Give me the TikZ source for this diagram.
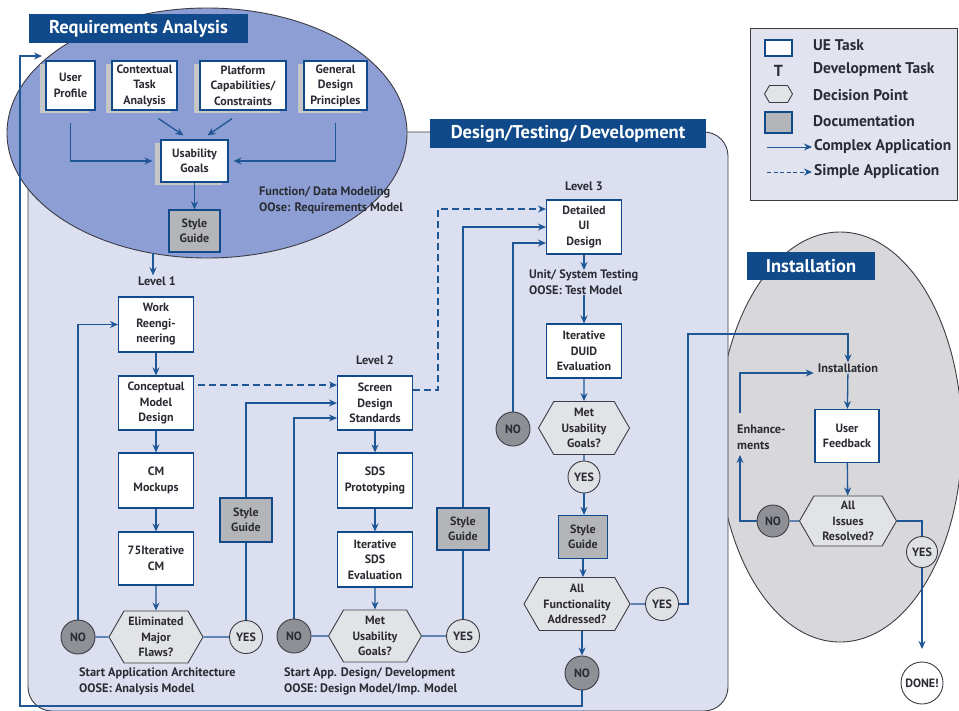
\documentclass[tikz,border=0pt]{standalone}
\usepackage{fontspec}
\setmainfont{PT Sans}
\usetikzlibrary{arrows.meta,shapes.symbols,shadows}

\definecolor{navy}{HTML}{114A8B}
\definecolor{linkblue}{HTML}{1F5696}
\definecolor{reqblue}{HTML}{8C9ED3}
\definecolor{lav}{HTML}{DCDFF0}
\definecolor{docgray}{HTML}{B4B5B8}
\definecolor{hexgray}{HTML}{E2E3E6}
\definecolor{nogray}{HTML}{8E9095}
\definecolor{yesgray}{HTML}{E0E1E4}
\definecolor{instgray}{HTML}{D8D8DA}
\definecolor{edge}{HTML}{3C3C44}
\definecolor{ink}{HTML}{2B2B33}
\definecolor{legendbg}{HTML}{E1E3EF}

\newcommand\boxfont{\fontsize{12}{15.5}\selectfont\bfseries}
\newcommand\notefont{\fontsize{12.3}{15.5}\selectfont\bfseries}
\newcommand\legfont{\fontsize{15.5}{17}\selectfont\bfseries}
\newcommand\headfont{\fontsize{18.5}{20}\selectfont\bfseries}

\begin{document}
\begin{tikzpicture}[x=1pt,y=-1pt,
  task/.style={draw=navy, line width=1.1pt, fill=white, align=center,
    inner sep=1pt, font=\boxfont, text=ink},
  shadowed/.style={drop shadow={shadow xshift=-6pt, shadow yshift=-3pt,
    fill=black!22, opacity=1}},
  doc/.style={draw=navy, line width=1.1pt, fill=docgray, align=center,
    inner sep=1pt, font=\boxfont, text=ink},
  hexd/.style={signal, signal to=east and west, signal pointer angle=120,
    draw=edge, line width=0.9pt, fill=hexgray, inner sep=0pt, align=center,
    font=\boxfont, text=ink},
  nocirc/.style={circle, draw=edge, line width=0.9pt, fill=nogray,
    minimum size=34pt, inner sep=0pt, font=\boxfont, text=ink},
  yescirc/.style={circle, draw=edge, line width=0.9pt, fill=yesgray,
    minimum size=33pt, inner sep=0pt, font=\boxfont, text=ink},
  note/.style={align=left, inner sep=0pt, font=\notefont, text=ink},
  lvl/.style={inner sep=1pt, font=\notefont, text=ink},
  title/.style={fill=navy, text=white, font=\headfont, inner sep=0pt},
  legtext/.style={anchor=west, inner sep=0pt, font=\legfont, text=ink},
  link/.style={draw=linkblue, line width=1.3pt},
  arr/.style={link, -{Stealth[length=8pt,width=7pt]}},
  dashlink/.style={dash pattern=on 7pt off 4pt}
]
\useasboundingbox (0,0) rectangle (959,710);
\fill[white] (0,0) rectangle (959,710);

% ---------- phase backgrounds ----------
\draw[draw=edge, line width=0.9pt, fill=instgray] (840,437) ellipse [x radius=122pt, y radius=205pt];
\draw[draw=edge, line width=0.9pt, fill=lav, rounded corners=24pt] (28,132) rectangle (728,711);
\draw[draw=edge, line width=0.9pt, fill=reqblue] (207,133) ellipse [x radius=200pt, y radius=125pt];

\node[title, minimum width=219pt, minimum height=29pt] (ratitle) at (138.5,28.5) {Requirements Analysis};
\node[title, minimum width=276pt, minimum height=29pt] (dtdtitle) at (568,133.5) {Design/Testing/\,Development};
\node[title, minimum width=128pt, minimum height=28pt] (insttitle) at (811,266) {Installation};

% ---------- legend ----------
\node[draw=edge, line width=1pt, fill=legendbg, minimum width=207pt, minimum height=172pt, inner sep=0pt] (legend) at (853.5,114) {};
\node[draw=navy, line width=1.1pt, fill=white, minimum width=27pt, minimum height=16pt, inner sep=0pt] (lgtask) at (778.5,48) {};
\node[inner sep=0pt, font=\fontsize{16}{16}\selectfont\bfseries, text=ink] (lgT) at (778.5,71) {T};
\node[hexd, minimum width=28pt, minimum height=17pt] (lghex) at (778.5,94) {};
\node[doc, minimum width=27pt, minimum height=21pt] (lgdoc) at (778.5,122.5) {};
\coordinate (lgaS) at (767,147);
\coordinate (lgaE) at (812,147);
\coordinate (lgbS) at (767,172);
\coordinate (lgbE) at (812,172);
\draw[arr, line width=1pt] (lgaS) -- (lgaE);
\draw[arr, line width=1pt, dash pattern=on 4pt off 2.5pt] (lgbS) -- (lgbE);
\node[legtext] (lgt1) at (813,45) {UE Task};
\node[legtext] (lgt2) at (813,70) {Development Task};
\node[legtext] (lgt3) at (813,95) {Decision Point};
\node[legtext] (lgt4) at (813,121) {Documentation};
\node[legtext] (lgt5) at (814,147) {Complex Application};
\node[legtext] (lgt6) at (814,172) {Simple Application};

% ---------- requirements analysis ----------
\node[task, shadowed, minimum width=49pt, minimum height=49pt] (up) at (70.5,85.5) {User\\Profile};
\node[task, shadowed, minimum width=65pt, minimum height=49pt] (cta) at (144.5,85.5) {Contextual\\Task\\Analysis};
\node[task, shadowed, minimum width=86pt, minimum height=49pt] (pcc) at (243,85.5) {Platform\\Capabilities/\\Constraints};
\node[task, shadowed, minimum width=63pt, minimum height=49pt] (gdp) at (335.5,85.5) {General\\Design\\Principles};
\node[task, shadowed, minimum width=67pt, minimum height=42pt] (ug) at (194.5,161) {Usability\\Goals};
\node[doc, minimum width=51pt, minimum height=42pt] (sg0) at (194.5,231) {Style\\Guide};
\node[note, anchor=north west] (fdm) at (259,187) {Function/ Data Modeling\\OOse: Requirements Model};

\draw[arr, shorten <=12pt, shorten >=8pt] (up.south) |- (ug.west);
\draw[arr, shorten <=12pt, shorten >=5pt] (gdp.south) |- (ug.east);
\draw[arr] ([xshift=14pt,yshift=-8pt]cta.south) -- ([xshift=-11pt,yshift=4pt]ug.north);
\draw[arr] ([xshift=-11pt,yshift=-8pt]pcc.south) -- ([xshift=13pt,yshift=4pt]ug.north);
\draw[arr] (ug.south) -- (sg0.north);

% ---------- level 1 ----------
\coordinate (reqbot) at (153,253);
\node[lvl] (lv1) at (157,281) {Level 1};
\draw[arr] (reqbot) -- (reqbot |- lv1.north);

\node[task, minimum width=75pt, minimum height=55pt] (wr) at (156,324.5) {Work\\Reengi-\\neering};
\node[task, minimum width=75pt, minimum height=54pt] (cmd) at (156,403) {Conceptual\\Model\\Design};
\node[task, minimum width=75pt, minimum height=55pt] (cmm) at (156,480.5) {CM\\Mockups};
\node[task, minimum width=75pt, minimum height=53pt] (itcm) at (156,558.5) {75Iterative\\CM};
\node[hexd, minimum width=94pt, minimum height=52pt] (hx1) at (156,637) {Eliminated\\Major\\Flaws?};
\node[nocirc] (no1) at (78,637) {NO};
\node[yescirc] (yes1) at (246,637) {YES};
\node[doc, minimum width=52pt, minimum height=44pt] (sg1) at (246,520) {Style\\Guide};
\node[note, anchor=north west] (t1) at (79,668) {Start Application Architecture\\OOSE: Analysis Model};

\draw[arr] (wr) -- (cmd);
\draw[arr] (cmd) -- (cmm);
\draw[arr] (cmm) -- (itcm);
\draw[arr] (itcm) -- (hx1);
\draw[link] (no1) -- (hx1);
\draw[link] (hx1) -- (yes1);
\draw[arr] (no1) |- (wr);
\draw[link] (yes1) -- (sg1);

% ---------- level 2 ----------
\node[lvl] (lv2) at (375,360) {Level 2};
\node[task, minimum width=75pt, minimum height=54pt] (sds) at (375,403) {Screen\\Design\\Standards};
\node[task, minimum width=75pt, minimum height=55pt] (sdsp) at (375,480.5) {SDS\\Prototyping};
\node[task, minimum width=75pt, minimum height=55pt] (isds) at (375,559.5) {Iterative\\SDS\\Evaluation};
\node[hexd, minimum width=93pt, minimum height=52pt] (hx2) at (375,636) {Met\\Usability\\Goals?};
\node[nocirc] (no2) at (294,636) {NO};
\node[yescirc] (yes2) at (463,636) {YES};
\node[doc, minimum width=52pt, minimum height=42pt] (sg2) at (463,529) {Style\\Guide};
\node[note, anchor=north west] (t2) at (284,668) {Start App. Design/ Development\\OOSE: Design Model/Imp. Model};

\draw[arr] (sg1) |- (sds);
\draw[arr, dashlink, shorten <=4pt] ([yshift=18pt]cmd.east) -- ([yshift=18pt]sds.west);
\draw[arr] (no2) |- ([yshift=-15pt]sds.west);
\draw[arr] (sds) -- (sdsp);
\draw[arr] (sdsp) -- (isds);
\draw[arr] (isds) -- (hx2);
\draw[link] (no2) -- (hx2);
\draw[link] (hx2) -- (yes2);
\draw[link] (yes2) -- (sg2);

% ---------- level 3 ----------
\node[lvl] (lv3) at (584,186) {Level 3};
\node[task, minimum width=75pt, minimum height=54pt] (dui) at (584,227) {Detailed\\UI\\Design};
\node[note, anchor=north west] (utest) at (529,270) {Unit/ System Testing\\OOSE: Test Model};
\node[task, minimum width=75pt, minimum height=54pt] (duid) at (584,351) {Iterative\\DUID\\Evaluation};
\node[hexd, minimum width=91pt, minimum height=53pt] (hx3) at (584,428) {Met\\Usability\\Goals?};
\node[nocirc] (no3) at (513,429) {NO};
\node[yescirc, minimum size=32pt] (yes3) at (584,477) {YES};
\node[doc, minimum width=49pt, minimum height=43pt] (sg3) at (583,537) {Style\\Guide};
\node[hexd, minimum width=106pt, minimum height=53pt] (hx4) at (577,604) {All\\Functionality\\Addressed?};
\node[yescirc] (yes4) at (662,604) {YES};
\node[nocirc] (no4) at (582,673) {NO};

\coordinate (dcorner) at (438,390);
\draw[arr, dashlink] (sds.east |- dcorner) -- (dcorner) |- ([yshift=18pt]dui.west);
\draw[arr] (sg2) |- (dui);
\draw[arr] (no3) |- ([yshift=-16pt]dui.west);
\draw[arr] (dui.south) -- (dui.south |- utest.north);
\draw[arr] (duid.north |- utest.south) -- (duid.north);
\draw[arr] (duid) -- (hx3);
\draw[link] (hx3) -- (yes3);
\draw[arr] (yes3) -- (yes3 |- sg3.north);
\draw[arr] (sg3) -- (sg3 |- hx4.north);
\draw[link] (hx4) -- (yes4);
\draw[arr] (no4 |- hx4.south) -- (no4);

% loop back to requirements analysis
\coordinate (fbL) at (20,706);
\coordinate (reqin) at (42,56);
\draw[arr] (no4) |- (fbL) |- (reqin);

% ---------- installation ----------
\node[lvl] (instl) at (848,368) {Installation};
\node[note, anchor=north west] (enh) at (737,425) {Enhance-\\ments};
\node[task, minimum width=64pt, minimum height=53pt] (uf) at (847,436) {User\\Feedback};
\node[hexd, minimum width=97pt, minimum height=50pt] (hx5) at (848,521) {All\\Issues\\Resolved?};
\node[nocirc, minimum size=32pt] (no5) at (773,521) {NO};
\node[yescirc, minimum size=31pt] (yes5) at (922,552) {YES};
\node[circle, draw=edge, line width=0.9pt, fill=white, minimum size=42pt, inner sep=0pt, font=\boxfont, text=ink] (done) at (922,683) {DONE!};

\coordinate (icorner) at (688,334);
\draw[arr] (yes4) -| (icorner) -| (instl);
\draw[arr] (instl) -- (uf);
\draw[arr] (uf) -- (hx5);
\draw[link] (no5) -- (hx5);
\coordinate (enhlow) at (740,455);
\coordinate (enhhigh) at (740,413);
\draw[arr] (no5) -| (enhlow);
\draw[arr, shorten >=3pt] (enhhigh) |- ([yshift=-5pt]instl.west);
\draw[link] (hx5) -| (yes5);
\coordinate (donein) at (922,649);
\draw[arr] (yes5) -- (donein);
\end{tikzpicture}
\end{document}
